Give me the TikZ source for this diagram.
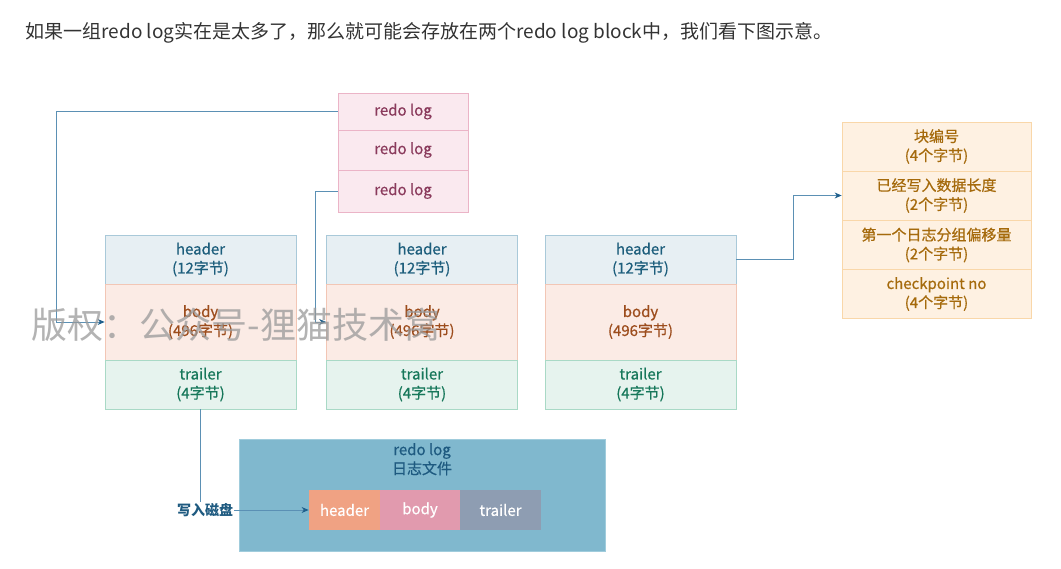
\documentclass[tikz,border=0pt]{standalone}
\usepackage{fontspec}
\setmainfont{Noto Sans CJK SC}
\newfontfamily\medfont[FakeBold=0.6]{Noto Sans CJK SC}
\usepackage{xcolor}
\usepackage{tikz}
\usetikzlibrary{arrows.meta}

\definecolor{hdrfill}{HTML}{E7EFF3}
\definecolor{hdrline}{HTML}{A9C9D9}
\definecolor{hdrtext}{HTML}{1D5E7C}
\definecolor{bdyfill}{HTML}{FBEBE5}
\definecolor{bdyline}{HTML}{F2C6B5}
\definecolor{bdytext}{HTML}{9C4C1C}
\definecolor{trlfill}{HTML}{E6F3EE}
\definecolor{trlline}{HTML}{A9D9C6}
\definecolor{trltext}{HTML}{16775A}
\definecolor{logfill}{HTML}{FAE9EF}
\definecolor{logline}{HTML}{EBB4C7}
\definecolor{logtext}{HTML}{8A3A5C}
\definecolor{keyfill}{HTML}{FEF1E2}
\definecolor{keyline}{HTML}{F9D7A9}
\definecolor{keytext}{HTML}{A56A0C}
\definecolor{linkcol}{HTML}{5B90B4}
\definecolor{tipcol}{HTML}{1F5F8C}
\definecolor{diskfill}{HTML}{80B8CE}
\definecolor{diskline}{HTML}{A0CCDC}
\definecolor{disktext}{HTML}{1E5A80}
\definecolor{fhfill}{HTML}{F0A283}
\definecolor{fbfill}{HTML}{E19AAE}
\definecolor{ftfill}{HTML}{8E9DB2}

\begin{document}
\begin{tikzpicture}[x=1pt, y=-1pt,
	cell/.style={draw, line width=0.8pt, inner sep=0pt, align=center, font=\medfont\fontsize{15}{19}\selectfont},
	hdr/.style={cell, fill=hdrfill, draw=hdrline, text=hdrtext, minimum width=191pt, minimum height=49pt},
	bdy/.style={cell, fill=bdyfill, draw=bdyline, text=bdytext, minimum width=191pt, minimum height=76pt},
	trl/.style={cell, fill=trlfill, draw=trlline, text=trltext, minimum width=191pt, minimum height=49pt},
	logrow/.style={cell, fill=logfill, draw=logline, text=logtext, minimum width=130pt},
	keyrow/.style={cell, fill=keyfill, draw=keyline, text=keytext, minimum width=189pt, minimum height=49pt},
	filecell/.style={cell, draw=none, text=white, minimum height=40pt},
	link/.style={draw=linkcol, line width=0.8pt},
	arrow/.style={link, -{Stealth[length=7pt, width=6pt, color=tipcol]}}]

		\useasboundingbox (0,0) rectangle (1061,569);

		\node[anchor=base west, text=black!80, font=\fontsize{19}{22}\selectfont] (intro) at (22,39)
			{如果一组redo log实在是太多了，那么就可能会存放在两个redo log block中，我们看下图示意。};

		\node[logrow, minimum height=37pt] (r1) at (403,111.5) {redo log};
		\node[logrow, minimum height=40pt] (r2) at (403,150) {redo log};
		\node[logrow, minimum height=42pt] (r3) at (403,191) {redo log};

		\node[hdr] (h1) at (200.5,259.5) {header\\(12字节)};
		\node[bdy] (b1) at (200.5,322) {body\\(496字节)};
		\node[trl] (t1) at (200.5,384.5) {trailer\\(4字节)};

		\node[hdr] (h2) at (422,259.5) {header\\(12字节)};
		\node[bdy] (b2) at (422,322) {body\\(496字节)};
		\node[trl] (t2) at (422,384.5) {trailer\\(4字节)};

		\node[hdr] (h3) at (640.5,259.5) {header\\(12字节)};
		\node[bdy] (b3) at (640.5,322) {body\\(496字节)};
		\node[trl] (t3) at (640.5,384.5) {trailer\\(4字节)};

		\node[keyrow] (k1) at (936.5,146.5) {块编号\\(4个字节)};
		\node[keyrow] (k2) at (936.5,195.5) {已经写入数据长度\\(2个字节)};
		\node[keyrow] (k3) at (936.5,245) {第一个日志分组偏移量\\(2个字节)};
		\node[keyrow] (k4) at (936.5,294) {checkpoint no\\(4个字节)};

		\node[draw=diskline, fill=diskfill, line width=0.8pt, minimum width=366pt, minimum height=112pt] (disk) at (422,495) {};
		\node[anchor=north, align=center, text=disktext, font=\medfont\fontsize{15}{19}\selectfont] (disklab) at ([yshift=-1pt]disk.north) {redo log\\日志文件};
		\node[filecell, fill=fhfill, minimum width=71pt] (fh) at (344.5,510) {header};
		\node[filecell, fill=fbfill, minimum width=80pt] (fb) at (420,510) {body};
		\node[filecell, fill=ftfill, minimum width=81pt] (ft) at (500.5,510) {trailer};

		\node[text=disktext, font=\bfseries\fontsize{14}{18}\selectfont, inner sep=1pt] (write) at (205,510) {写入磁盘};

		\draw[arrow] (r1.west) -| ([xshift=-48pt]b1.west) -- (b1.west);
		\draw[arrow] (r3.west) -| ([xshift=-11pt]b2.west) -- (b2.west);
		\draw[arrow] (h3.east) -| ([xshift=-48pt]k2.west) -- (k2.west);
		\draw[link] (t1.south) -- (t1.south |- write.north);
		\draw[arrow] (write.east) -- (fh.west);

		\node[anchor=west, text=black!40, opacity=0.75, font=\fontsize{36}{40}\selectfont] (mark) at (28,325) {版权：公众号-狸猫技术窝};

	\end{tikzpicture}
\end{document}
